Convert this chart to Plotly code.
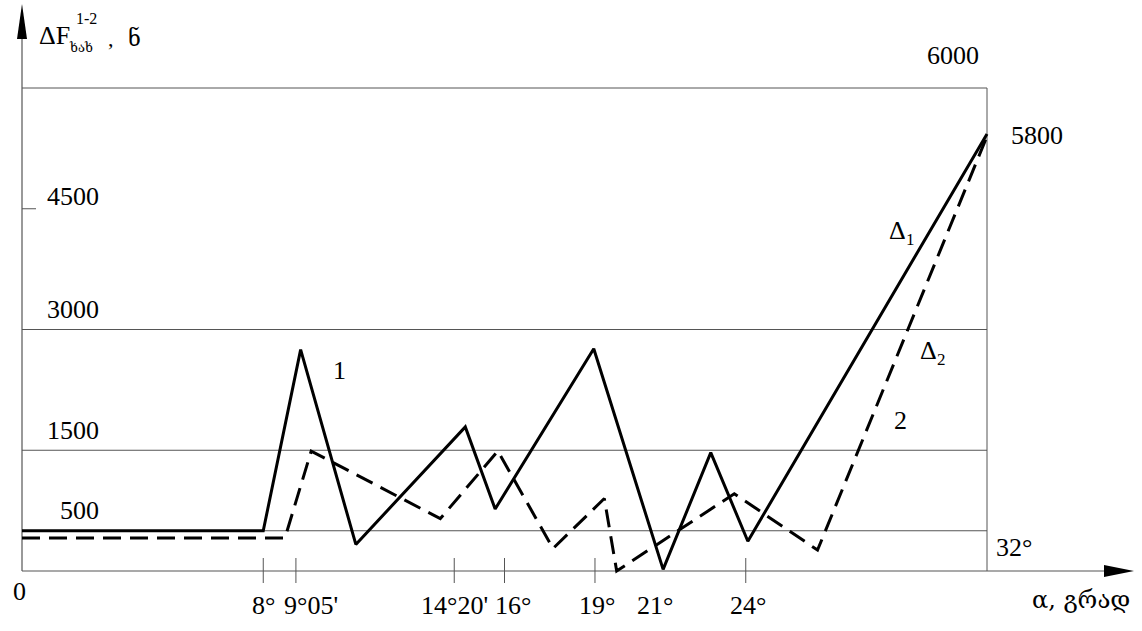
import plotly.graph_objects as go

# ---------------- data ----------------
# curve 1 (solid): alpha in degrees, dF in N
alpha_solid = [0, 8.0, 9.24, 11.07, 14.70, 15.69, 18.96, 21.26, 22.84, 24.07, 32]
dF_solid = [500, 500, 2750, 330, 1790, 770, 2760, 20, 1470, 370, 5430]

# curve 2 (dashed)
alpha_dash = [0, 8.72, 9.59, 13.87, 15.78, 17.61, 19.31, 19.72, 23.62, 26.38, 32]
dF_dash = [410, 410, 1490, 650, 1490, 280, 900, 0, 960, 260, 5400]

# x ticks
x_tick_vals = [8, 9 + 5 / 60, 14 + 20 / 60, 16, 19, 24]
x_tick_text = ["8°", "9°05'", "14°20'", "16°", "19°", "24°"]
x_tick_shift = [0, 15, 0, 8, 2, 2]
x_extra_label_val = 21
x_extra_label_text = "21°"
x_end_val = 32
x_end_text = "32°"

# y reference lines / labels
y_grid_vals = [500, 1500, 3000, 6000]
y_label_vals = [500, 1500, 3000, 4500]
y_label_text = ["500", "1500", "3000", "4500"]
y_top_val = 6000
y_top_text = "6000"
end_value_text = "5800"

# ---------------- layout geometry ----------------
W, H = 1142, 631
X0_PX, X32_PX = 22, 987
Y0_PX, Y6000_PX = 571, 88
kx = (X32_PX - X0_PX) / 32.0
ky = (Y0_PX - Y6000_PX) / 6000.0


def x_of_px(px):
    return (px - X0_PX) / kx


def y_of_px(py):
    return (Y0_PX - py) / ky


FONT = "Liberation Serif, Times New Roman, DejaVu Serif, serif"
GFONT = "DejaVu Serif, DejaVu Sans, serif"
GRID = "#555555"
FS = 26

fig = go.Figure()

fig.add_trace(go.Scatter(x=alpha_solid, y=dF_solid, mode="lines",
                         line=dict(color="black", width=3), hoverinfo="skip"))
fig.add_trace(go.Scatter(x=alpha_dash, y=dF_dash, mode="lines",
                         line=dict(color="black", width=3, dash="18px,9px"),
                         hoverinfo="skip"))

shapes = []
# horizontal reference lines
for v in y_grid_vals:
    shapes.append(dict(type="line", xref="x", yref="y", x0=0, x1=x_end_val, y0=v, y1=v,
                       line=dict(color=GRID, width=1), layer="below"))
# right border
shapes.append(dict(type="line", xref="x", yref="y", x0=x_end_val, x1=x_end_val, y0=0, y1=y_top_val,
                   line=dict(color=GRID, width=1), layer="below"))
# x axis line
shapes.append(dict(type="line", xref="x", yref="y", x0=0, x1=x_of_px(1106), y0=0, y1=0,
                   line=dict(color=GRID, width=1.2), layer="below"))
# y axis line
shapes.append(dict(type="line", xref="x", yref="y", x0=0, x1=0, y0=0, y1=y_of_px(36),
                   line=dict(color=GRID, width=1.2), layer="below"))
# arrow heads
shapes.append(dict(type="path", xref="x", yref="y",
                   path=f"M{x_of_px(1134)},0 L{x_of_px(1104)},{y_of_px(Y0_PX - 6)} "
                        f"L{x_of_px(1104)},{y_of_px(Y0_PX + 6)} Z",
                   fillcolor="black", line=dict(color="black", width=0)))
shapes.append(dict(type="path", xref="x", yref="y",
                   path=f"M0,{y_of_px(4)} L{x_of_px(X0_PX - 5)},{y_of_px(39)} "
                        f"L{x_of_px(X0_PX + 5)},{y_of_px(39)} Z",
                   fillcolor="black", line=dict(color="black", width=0)))
# x ticks crossing the axis
for tv in x_tick_vals:
    shapes.append(dict(type="line", xref="x", yref="y", x0=tv, x1=tv,
                       y0=y_of_px(Y0_PX - 13), y1=y_of_px(Y0_PX + 12),
                       line=dict(color=GRID, width=1)))
# small tick at 4500
shapes.append(dict(type="line", xref="x", yref="y", x0=0, x1=x_of_px(X0_PX + 14),
                   y0=4500, y1=4500, line=dict(color=GRID, width=1)))

ann = []


def txt(text, x, y, size=FS, xanchor="center", yanchor="middle", xshift=0, yshift=0,
        font=FONT, xref="x", yref="y"):
    ann.append(dict(text=text, x=x, y=y, xref=xref, yref=yref, showarrow=False,
                    xanchor=xanchor, yanchor=yanchor, xshift=xshift, yshift=yshift,
                    font=dict(family=font, size=size, color="black")))


# x tick labels
for tv, tt, sh in zip(x_tick_vals, x_tick_text, x_tick_shift):
    txt(tt, tv, 0, yanchor="middle", yshift=-(605 - Y0_PX), xshift=sh)
txt(x_extra_label_text, x_extra_label_val, 0, yshift=-(605 - Y0_PX))
txt(x_end_text, x_end_val, 0, xanchor="left", xshift=7, yshift=(Y0_PX - 547))
txt("0", 0, 0, xshift=-3, yshift=-(591 - Y0_PX))

# y labels (right aligned)
for v, t in zip(y_label_vals, y_label_text):
    sh = 20 if v != 4500 else 12
    txt(t, x_of_px(101), v, xanchor="right", yshift=sh)
txt(y_top_text, x_of_px(953), y_top_val, yshift=(Y6000_PX - 55) - (Y6000_PX - 88))
txt(end_value_text, x_end_val, dF_solid[-1], xanchor="left", xshift=22, yshift=-2)

# curve labels
txt("1", x_of_px(339), y_of_px(370))
txt("2", x_of_px(900), y_of_px(420))
txt("Δ", x_of_px(897), y_of_px(230))
txt("1", x_of_px(910), y_of_px(239), size=17)
txt("Δ", x_of_px(928), y_of_px(350))
txt("2", x_of_px(941), y_of_px(359), size=17)

# axis titles
txt("ΔF", x_of_px(37), y_of_px(35), xanchor="left")
txt("1-2", x_of_px(74), y_of_px(18), size=16, xanchor="left")
txt("ხახ", x_of_px(67), y_of_px(47), size=13, xanchor="left", font=GFONT)
txt(",", x_of_px(106), y_of_px(38), size=22, xanchor="left")
txt("ნ", x_of_px(126), y_of_px(38), size=22, xanchor="left", font=GFONT)
txt("α, გრად", x_of_px(1030), y_of_px(600), size=24, xanchor="left", font=GFONT)

fig.update_layout(
    width=W, height=H,
    margin=dict(l=0, r=0, t=0, b=0),
    paper_bgcolor="white", plot_bgcolor="white",
    showlegend=False,
    xaxis=dict(range=[x_of_px(0), x_of_px(W)], visible=False, fixedrange=True),
    yaxis=dict(range=[y_of_px(H), y_of_px(0)], visible=False, fixedrange=True),
    shapes=shapes, annotations=ann,
)

fig.write_html("out.html", config={"displayModeBar": False},
               post_script="document.body.style.margin='0';document.body.style.overflow='hidden';")
